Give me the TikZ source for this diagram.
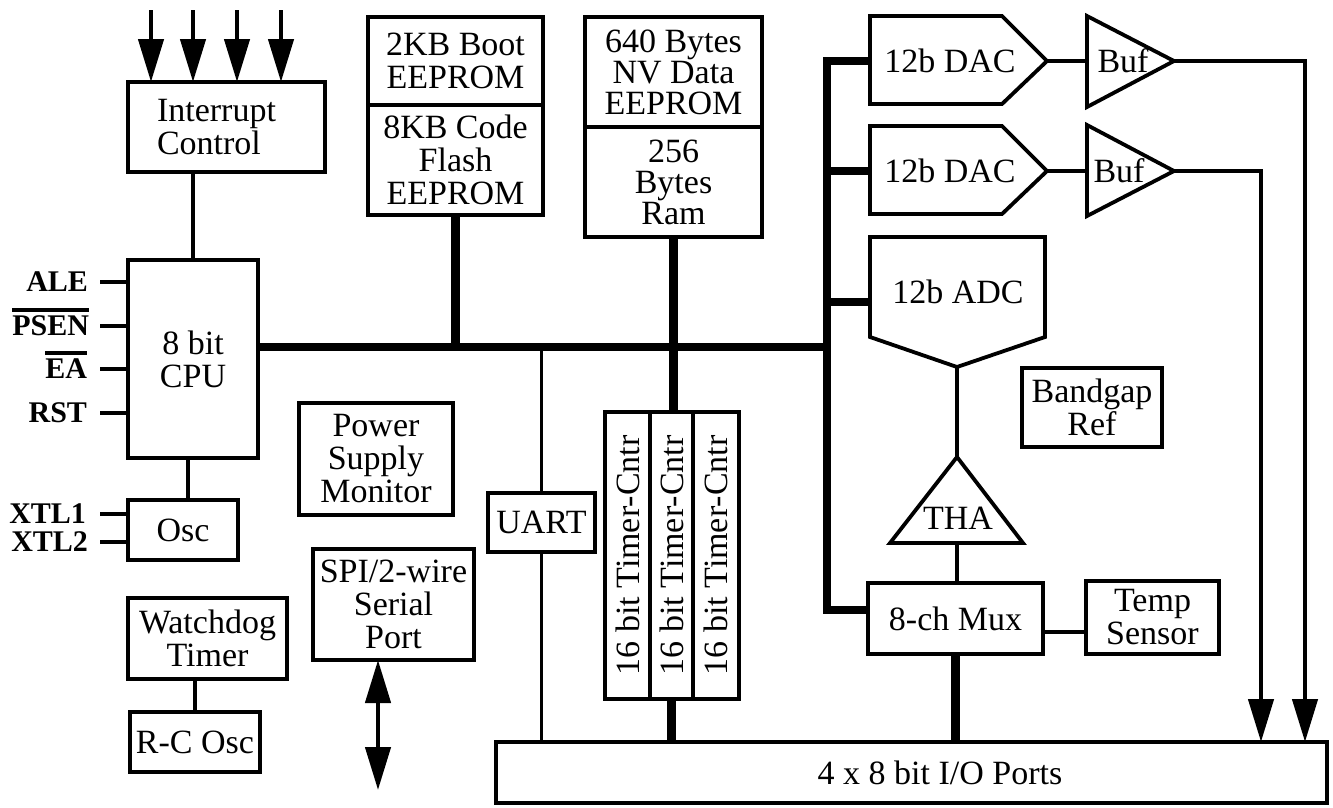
\documentclass[tikz,border=0pt]{standalone}
\usepackage{fontspec}
\setmainfont{Liberation Serif}
\usetikzlibrary{arrows.meta}
\begin{document}
\begin{tikzpicture}[x=1pt,y=-1pt,
  every node/.style={inner sep=0pt, outer sep=0pt, font=\fontsize{34}{33}\selectfont},
  box/.style={draw, line width=3.8pt, align=center},
  conn/.style={line width=3.8pt},
  shp/.style={line width=3.8pt, line join=miter},
  bus/.style={line width=8.5pt, line join=miter},
  arr/.style={line width=4.5pt, -{Triangle[length=43pt,width=25pt]}},
  dblarr/.style={line width=4.5pt, {Triangle[length=43pt,width=25pt]}-{Triangle[length=43pt,width=25pt]}},
  pinlbl/.style={anchor=east, font=\fontsize{30}{30}\selectfont\bfseries},
  ovl/.style={line width=4pt},
]
\useasboundingbox (0,0) rectangle (1333,807);

% ---------- left column ----------
\node[box, minimum width=197pt, minimum height=90pt, align=left] (intc) at (226.5,127) {Interrupt\hspace*{20pt}\\Control};
\node[box, minimum width=130pt, minimum height=198pt] (cpu) at (193,359) {8 bit\\CPU};
\node[box, minimum width=110pt, minimum height=60pt] (osc) at (183,530) {Osc};
\node[box, minimum width=159pt, minimum height=81pt] (wdt) at (207.5,638.5) {Watchdog\\Timer};
\node[box, minimum width=130pt, minimum height=60pt] (rcosc) at (195,742) {R-C Osc};
\node[box, minimum width=154pt, minimum height=112pt] (psm) at (376,459) {Power\\Supply\\Monitor};
\node[box, minimum width=161pt, minimum height=111pt] (spi) at (393.5,604.5) {SPI/2-wire\\Serial\\Port};
\node[box, minimum width=107pt, minimum height=59pt] (uart) at (541.5,522.5) {UART};

% interrupt inputs
\coordinate (i1) at (151,10);
\coordinate (i2) at (193,10);
\coordinate (i3) at (237,10);
\coordinate (i4) at (281,10);
\foreach \c in {i1,i2,i3,i4} \draw[arr] (\c) -- (\c |- intc.north);

\draw[conn] (cpu.north) -- (cpu.north |- intc.south);
\draw[conn] ([xshift=5pt]osc.north) -- ([xshift=5pt]osc.north |- cpu.south);
\draw[conn] (rcosc.north) -- (rcosc.north |- wdt.south);

% pin labels
\node[pinlbl] (ale) at (88,282) {ALE};
\node[pinlbl] (psen) at (89,326) {PSEN};
\node[pinlbl] (ea) at (87,369) {EA};
\node[pinlbl] (rst) at (87,413) {RST};
\node[pinlbl] (xtl1) at (86,514) {XTL1};
\node[pinlbl] (xtl2) at (88,542) {XTL2};
\draw[ovl] ([yshift=6pt]psen.north west) -- ([yshift=6pt]psen.north east);
\draw[ovl] ([yshift=6pt]ea.north west) -- ([yshift=6pt]ea.north east);
\foreach \p in {ale,psen,ea,rst} \draw[conn] (100,0 |- \p) -- (\p -| cpu.west);
\foreach \p in {xtl1,xtl2} \draw[conn] (100,0 |- \p) -- (\p -| osc.west);

% SPI arrow
\coordinate (spiend) at (378,790);
\draw[dblarr] (spiend |- spi.south) -- (spiend);

% ---------- memories ----------
\node[box, minimum width=175pt, minimum height=88pt] (boot) at (455.5,61) {2KB Boot\\EEPROM};
\node[box, minimum width=175pt, minimum height=110pt] (flash) at (455.5,160) {8KB Code\\Flash\\EEPROM};
\node[box, minimum width=177pt, minimum height=110pt, font=\fontsize{34}{31}\selectfont] (nv) at (673.5,72) {640 Bytes\\NV Data\\EEPROM};
\node[box, minimum width=177pt, minimum height=110pt, font=\fontsize{34}{31}\selectfont] (ram) at (673.5,182) {256\\Bytes\\Ram};

% timers
\node[box, minimum width=45pt, minimum height=287pt] (t1) at (627.5,555.5) {};
\node[box, minimum width=43pt, minimum height=287pt] (t2) at (671.5,555.5) {};
\node[box, minimum width=46pt, minimum height=287pt] (t3) at (716,555.5) {};
\node[rotate=90] (t1l) at (t1) {16 bit Timer-Cntr};
\node[rotate=90] (t2l) at (t2) {16 bit Timer-Cntr};
\node[rotate=90] (t3l) at (t3) {16 bit Timer-Cntr};

% I/O ports
\node[draw, line width=3.8pt, minimum width=831pt, minimum height=61pt] (io) at (911.5,772.5) {};
\node (iol) at (940,773) {4 x 8 bit I/O Ports};

% ---------- analog ----------
\draw[shp] (870,16) -- (1002,16) -- (1047,61) -- (1002,104) -- (870,104) -- cycle;
\draw[shp] (870,126) -- (1002,126) -- (1047,171) -- (1002,214) -- (870,214) -- cycle;
\node (dac1) at (950,61) {12b DAC};
\node (dac2) at (950,171) {12b DAC};
\draw[shp] (870,237) -- (1045,237) -- (1045,337) -- (957,367) -- (870,337) -- cycle;
\node (adc) at (958,292) {12b ADC};
\draw[shp] (1087,16) -- (1174,61) -- (1087,107) -- cycle;
\draw[shp] (1087,125) -- (1174,171) -- (1087,216) -- cycle;
\node (buf1) at (1123,61) {Buf};
\node (buf2) at (1119,171) {Buf};
\draw[shp] (957,457) -- (1023,543) -- (890,543) -- cycle;
\node (tha) at (958,518) {THA};
\node[box, minimum width=175pt, minimum height=71pt] (mux) at (955.5,618.5) {8-ch Mux};
\node[box, minimum width=133pt, minimum height=73pt] (temp) at (1152.5,617.5) {Temp\\Sensor};
\node[box, minimum width=140pt, minimum height=79pt] (bg) at (1092,407.5) {Bandgap\\Ref};

\coordinate (dac1w) at (870,61);
\coordinate (dac1e) at (1047,61);
\coordinate (dac2w) at (870,171);
\coordinate (dac2e) at (1047,171);
\coordinate (adcw) at (870,302);
\coordinate (adcs) at (957,367);
\coordinate (buf1w) at (1087,61);
\coordinate (buf1e) at (1174,61);
\coordinate (buf2w) at (1087,171);
\coordinate (buf2e) at (1174,171);
\coordinate (than) at (957,457);
\coordinate (thas) at (957,543);
\coordinate (muxw) at (868,610);
\coordinate (mt) at (1043,632);
\coordinate (o1) at (1305,61);
\coordinate (o2) at (1261,171);
\coordinate (bj) at (827,347);

% ---------- buses ----------
\draw[bus] (cpu.east |- bj) -- (bj);
\draw[bus] (dac1w) -- (dac1w -| bj) -- (muxw -| bj) -- (muxw);
\draw[bus] (dac2w -| bj) -- (dac2w);
\draw[bus] (adcw -| bj) -- (adcw);
\draw[bus] (flash.south) -- (flash.south |- bj);
\draw[bus] (ram.south) -- (ram.south |- t2.north);
\draw[bus] (t2.south) -- (t2.south |- io.north);
\draw[bus] (mux.south) -- (mux.south |- io.north);
\draw[conn] (uart.north |- bj) -- (uart.north);
\draw[conn] (uart.south) -- (uart.south |- io.north);

% analog connections
\draw[conn] (dac1e) -- (buf1w);
\draw[conn] (dac2e) -- (buf2w);
\draw[conn] (adcs) -- (than);
\draw[conn] (thas) -- (thas |- mux.north);
\draw[conn] (mt) -- (mt -| temp.west);
\draw[arr, line join=miter] (buf1e) -- (o1) -- (o1 |- io.north);
\draw[arr, line join=miter] (buf2e) -- (o2) -- (o2 |- io.north);
\end{tikzpicture}
\end{document}
